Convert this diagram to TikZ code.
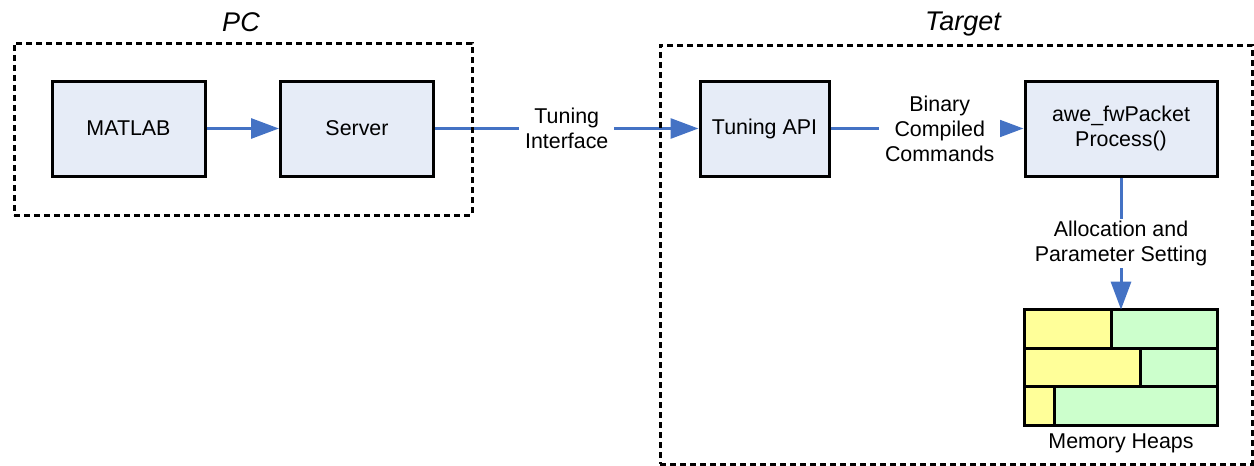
\documentclass[tikz,border=0pt]{standalone}
\usepackage{fontspec}
\setmainfont{Liberation Sans}
\usetikzlibrary{arrows.meta}
\definecolor{boxfill}{HTML}{E6ECF7}
\definecolor{conncol}{HTML}{4472C4}
\definecolor{heapY}{HTML}{FFFF99}
\definecolor{heapG}{HTML}{CCFFCC}
\begin{document}
\begin{tikzpicture}[x=0.5pt,y=-0.5pt, font=\fontsize{10.7}{12.5}\selectfont,
  blk/.style={draw=black, line width=1.5pt, fill=boxfill, minimum width=76.5pt, minimum height=47.5pt, align=center, inner sep=0pt},
  conn/.style={draw=conncol, line width=1.5pt, -{Triangle[length=14pt,width=10pt]}},
  lbl/.style={fill=white, align=center, inner xsep=3pt, inner ysep=1pt},
  grp/.style={draw=black, line width=1.5pt, dash pattern=on 3pt off 2pt, inner sep=0pt},
  grptitle/.style={font=\fontsize{13.5}{16}\selectfont\itshape, inner sep=0pt},
  cell/.style={draw=black, line width=1.5pt}]
\useasboundingbox (0,0) rectangle (1254,466);

% blocks
\node[blk] (matlab) at (128.5,128.5) {MATLAB};
\node[blk] (server) at (357,128.5) {Server};
\node[blk, minimum width=64.5pt] (api) at (764.5,128.5) {Tuning API};
\node[blk, minimum width=96pt] (awe) at (1121,128.5) {awe\_fwPacket\\Process()};

% memory heaps
\node[minimum width=96pt, minimum height=57.5pt, inner sep=0pt] (heap) at (1121,367.5) {};
\fill[heapY] (1025,310) rectangle (1111,348);
\fill[heapG] (1111,310) rectangle (1217,348);
\fill[heapY] (1025,348) rectangle (1140,386);
\fill[heapG] (1140,348) rectangle (1217,386);
\fill[heapY] (1025,386) rectangle (1054,425);
\fill[heapG] (1054,386) rectangle (1217,425);
\draw[cell] (1025,348) -- (1217,348) (1025,386) -- (1217,386);
\draw[cell] (1111,310) -- (1111,348) (1140,348) -- (1140,386) (1054,386) -- (1054,425);
\draw[cell] (heap.north west) rectangle (heap.south east);
\node[anchor=north, inner sep=0pt] (heaplbl) at (1121,433) {Memory Heaps};

% connectors
\draw[conn] (matlab) -- (server);
\draw[conn] (server) -- node[lbl] {Tuning\\Interface} (api);
\draw[conn] (api) -- node[lbl, pos=0.566] {Binary\\Compiled\\Commands} (awe);
\draw[conn] (awe) -- node[lbl] {Allocation and\\Parameter Setting} (heap);

% groups
\node[grp, minimum width=229pt, minimum height=86pt] (pc) at (243,129) {};
\node[grptitle] (pct) at (241,22) {PC};
\node[grp, minimum width=296pt, minimum height=209.5pt] (target) at (956,254.5) {};
\node[grptitle] (targett) at (963,24) {Target};
\end{tikzpicture}
\end{document}
